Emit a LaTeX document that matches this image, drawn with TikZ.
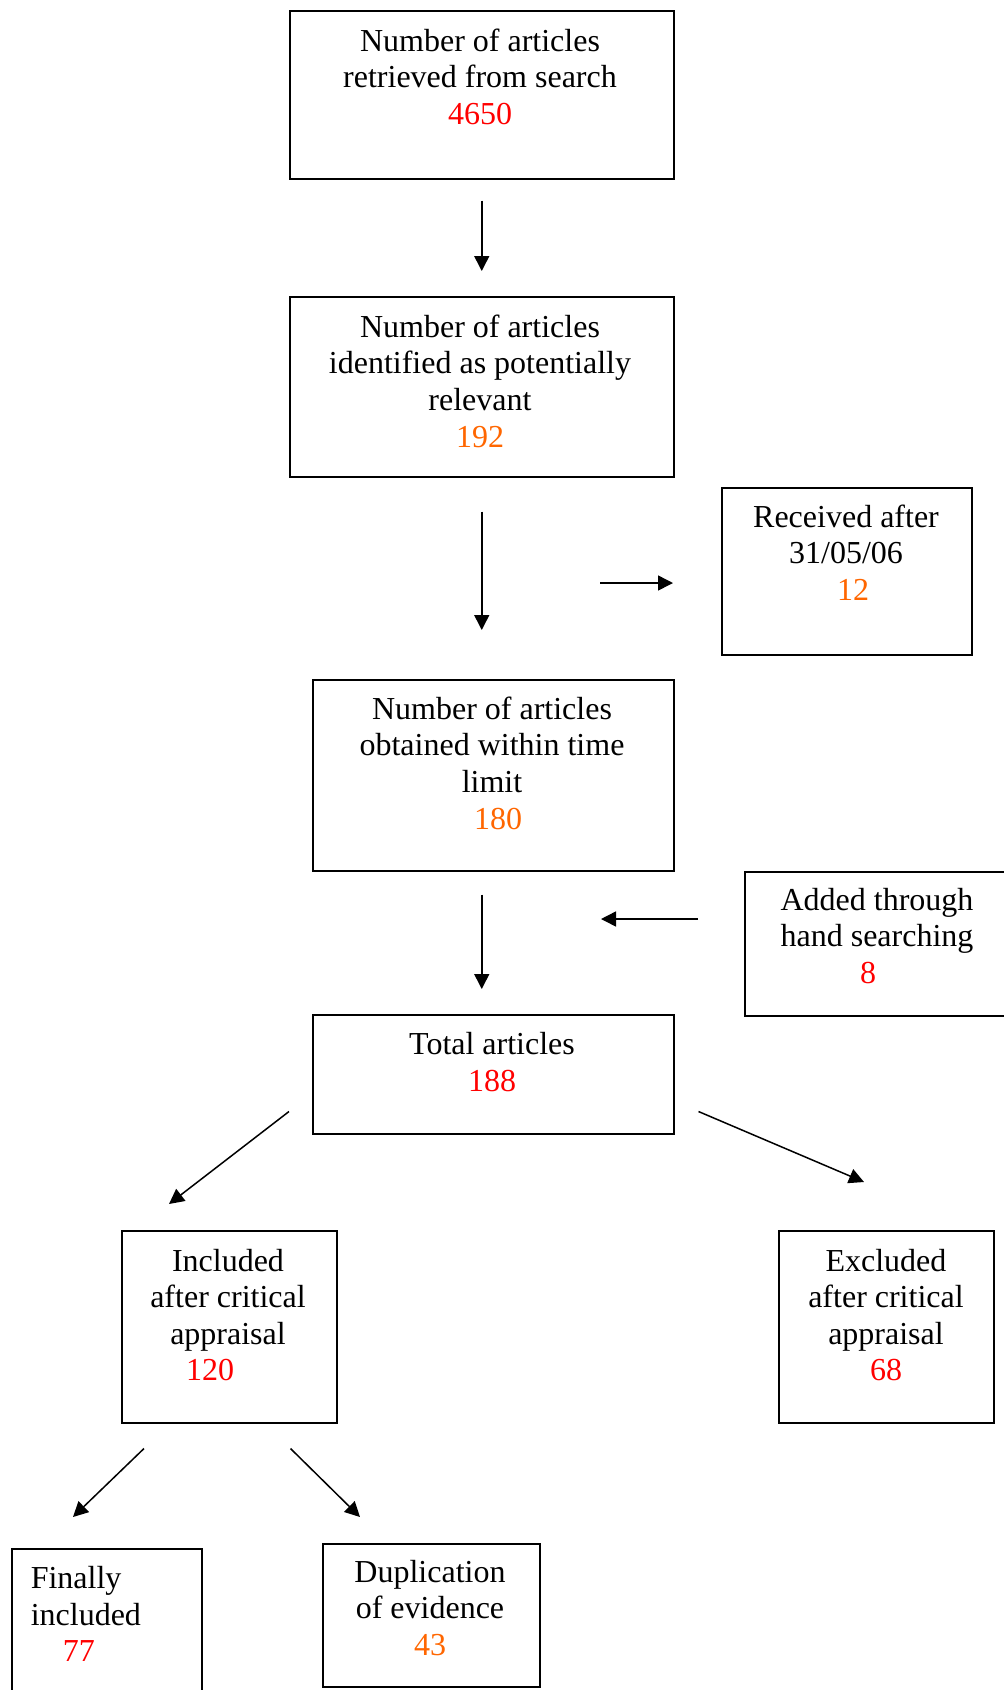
\documentclass[tikz,border=0pt]{standalone}
\usepackage{fontspec}
\setmainfont{Liberation Serif}
\usepackage{tikz}
\usetikzlibrary{arrows.meta,calc,positioning}
\definecolor{numred}{RGB}{255,0,0}
\definecolor{numorange}{RGB}{255,102,0}

\begin{document}
\begin{tikzpicture}[x=1pt,y=-1pt,line width=1.5pt,>={Triangle[length=15pt,width=15pt]},
	box/.style={draw,anchor=north west,inner sep=0pt},
	txt/.style={align=center,inner sep=0pt,font=\fontsize{32}{36.6}\selectfont}]
	\useasboundingbox (0,0) rectangle (1004,1690);

	\node[box,minimum width=384pt,minimum height=168pt] (search) at (289,10) {};
	\node[box,minimum width=384pt,minimum height=180pt] (relevant) at (289,296) {};
	\node[box,minimum width=250pt,minimum height=167pt] (received) at (721,487) {};
	\node[box,minimum width=361pt,minimum height=191pt] (obtained) at (312,679) {};
	\node[box,minimum width=280pt,minimum height=144pt] (added) at (744,871) {};
	\node[box,minimum width=361pt,minimum height=119pt] (total) at (312,1014) {};
	\node[box,minimum width=215pt,minimum height=192pt] (included) at (121,1230) {};
	\node[box,minimum width=215pt,minimum height=192pt] (excluded) at (778,1230) {};
	\node[box,minimum width=190pt,minimum height=170pt] (final) at (11,1548) {};
	\node[box,minimum width=217pt,minimum height=143pt] (duplic) at (322,1543) {};

	\node[txt] (search-txt) at (480,76.5) {Number of articles\\retrieved from search\\\textcolor{numred}{4650}};
	\node[txt] (relevant-txt) at (480,381) {Number of articles\\identified as potentially\\relevant\\\textcolor{numorange}{192}};
	\node[txt] (received-txt) at (846,552.5) {Received after\\31/05/06\\\hspace*{14pt}\textcolor{numorange}{12}};
	\node[txt] (obtained-txt) at (492,763) {Number of articles\\obtained within time\\limit\\\hspace*{12pt}\textcolor{numorange}{180}};
	\node[txt] (added-txt) at (877,936) {Added through\\hand searching\\\textcolor{numred}{8}\hspace*{18pt}};
	\node[txt] (total-txt) at (492,1062) {Total articles\\\textcolor{numred}{188}};
	\node[txt] (included-txt) at (228,1315) {Included\\after critical\\appraisal\\\textcolor{numred}{120}\hspace*{36pt}};
	\node[txt] (excluded-txt) at (886,1315) {Excluded\\after critical\\appraisal\\\textcolor{numred}{68}};
	\node[txt,align=left,anchor=west] (final-txt) at (30,1614) {Finally\\included\\\hspace*{32pt}\textcolor{numred}{77}};
	\node[txt] (duplic-txt) at (430,1608) {Duplication\\of evidence\\\textcolor{numorange}{43}};

	\coordinate (late) at (600,583);
	\coordinate (hand) at (601,919);
	\coordinate (included-in) at (169,1204);
	\coordinate (excluded-in) at (864,1182);
	\coordinate (final-in) at (73,1517);
	\coordinate (duplic-in) at (360,1517);

	\draw[->,shorten <=21pt,shorten >=25pt] (search.south) -- (relevant.north);
	\draw[->,shorten <=34pt,shorten >=49pt] (relevant.south) -- (relevant.south |- obtained.north);
	\draw[->,shorten <=23pt,shorten >=25pt] (relevant.south |- obtained.south) -- (relevant.south |- total.north);
	\draw[->,shorten >=48pt] (late) -- (late -| received.west);
	\draw[->,shorten <=46pt] (hand -| added.west) -- (hand);
	\draw[->] ([shift={(-23,-23)}]total.south west) -- (included-in);
	\draw[->] ([shift={(24,-23)}]total.south east) -- (excluded-in);
	\draw[->] ([shift={(23,25)}]included.south west) -- (final-in);
	\draw[->] ([shift={(-47,25)}]included.south east) -- (duplic-in);
\end{tikzpicture}
\end{document}
